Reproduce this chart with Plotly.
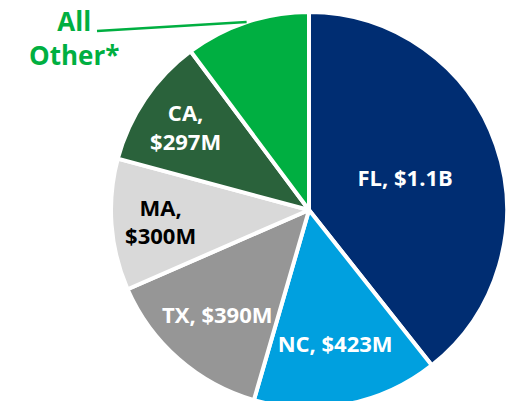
import math
import plotly.graph_objects as go

# State totals ($M), clockwise from 12 o'clock
states = ["FL", "NC", "TX", "MA", "CA", "All Other*"]
values = [1100, 423, 390, 300, 297, 285]
labels = ["FL, $1.1B", "NC, $423M", "TX, $390M", "MA,<br>$300M", "CA,<br>$297M", ""]

colors = ["#002D72", "#00A0DF", "#969696", "#D9D9D9", "#2A623B", "#00AF41"]
text_colors = ["white", "white", "white", "black", "white", "white"]

W, H = 513, 420
cx, cy, r = 309, 210, 198  # pie centre and radius in px (from top-left)

fig = go.Figure(
    go.Pie(
        labels=states,
        values=values,
        text=labels,
        textinfo="text",
        textposition=["inside"] * 5 + ["none"],
        insidetextorientation="horizontal",
        sort=False,
        direction="clockwise",
        rotation=0,
        marker=dict(colors=colors, line=dict(color="white", width=4)),
        insidetextfont=dict(family="Open Sans", size=22, color=text_colors, weight="bold"),
        hoverinfo="label+value",
        domain=dict(x=[(cx - r) / W, (cx + r) / W], y=[(H - cy - r) / H, (H - cy + r) / H]),
    )
)

# leader line for the "All Other" slice, ending at its mid-angle on the rim
total = sum(values)
start = sum(values[:-1]) / total * 360
mid = math.radians(start + values[-1] / total * 180)
ex = cx + r * math.sin(mid)
ey = cy - r * math.cos(mid)
fig.add_shape(
    type="line", xref="paper", yref="paper",
    x0=97 / W, y0=(H - 31) / H, x1=ex / W, y1=(H - ey) / H,
    line=dict(color="#00AF41", width=2.5),
)
fig.add_annotation(
    text="All<br>Other*", xref="paper", yref="paper",
    x=74 / W, y=(H - 38) / H, xanchor="center", yanchor="middle",
    showarrow=False, align="center",
    font=dict(family="Open Sans", size=26, color="#00AF41", weight="bold"),
)

fig.update_layout(
    width=W, height=H,
    margin=dict(l=0, r=0, t=0, b=0),
    paper_bgcolor="white", plot_bgcolor="white",
    showlegend=False,
)

fig.write_html("out.html", post_script="document.body.style.margin='0';document.body.style.overflow='hidden';")
